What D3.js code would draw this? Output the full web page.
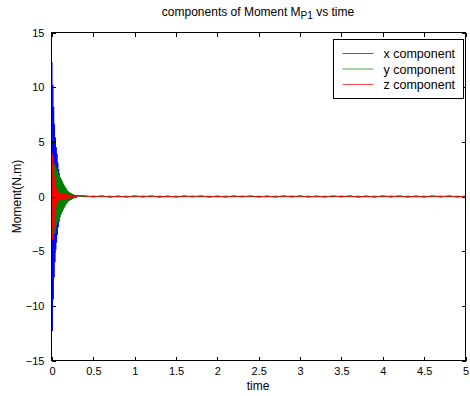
<!DOCTYPE html>
<html>
<head>
<meta charset="utf-8">
<script src="https://cdn.jsdelivr.net/npm/d3@7"></script>
<style>
  html, body { margin: 0; padding: 0; background: #fff; }
  svg { display: block; }
  text { font-family: "Liberation Sans", Arial, Helvetica, sans-serif; fill: #000; }
</style>
</head>
<body>
<svg id="chart" width="470" height="396"></svg>
<script>
// Moment components in N·m. Fast transient sampled every 0.005 s over 0–0.3 s,
// followed by the settled response sampled every 0.1 s over 0.3–5 s.
const fastDt = 0.005;
const slowStart = 0.3;
const slowDt = 0.1;

const xFast = [12.3, -12.3, 10.2, -9.4, 8.2, -7.4, 6.6, -6.0, 5.4, -4.9, 4.5, -4.2, 3.9, -3.5, 3.1, -2.8,
  2.5, -2.3, 2.1, -1.9, 1.75, -1.6, 1.45, -1.35, 1.25, -1.15, 1.05, -0.97, 0.9, -0.83, 0.77, -0.71,
  0.66, -0.61, 0.56, -0.52, 0.48, -0.45, 0.42, -0.39, 0.37, -0.35, 0.33, -0.31, 0.3, -0.28, 0.27, -0.25,
  0.23, -0.21, 0.2, -0.18, 0.17, -0.15, 0.14, -0.12, 0.11, -0.1, 0.09, -0.08, 0.07];
const yFast = [0.5, -2.6, 2.8, -2.95, 2.95, -3.3, 3.0, -3.4, 2.85, -3.1, 2.65, -2.7, 2.5, -2.4, 2.35, -2.25,
  2.15, -2.05, 1.95, -1.85, 1.75, -1.68, 1.6, -1.52, 1.45, -1.38, 1.3, -1.22, 1.15, -1.08, 1.0, -0.93,
  0.87, -0.81, 0.75, -0.68, 0.62, -0.56, 0.5, -0.47, 0.44, -0.41, 0.38, -0.36, 0.34, -0.32, 0.3, -0.27,
  0.24, -0.21, 0.19, -0.16, 0.14, -0.12, 0.1, -0.09, 0.08, -0.07, 0.06, -0.055, 0.05];
const zFast = [4.0, -4.0, 3.8, -3.8, 3.0, -2.9, 1.8, -1.6, 1.0, -0.95, 0.8, -0.7, 0.6, -0.55, 0.5, -0.45,
  0.4, -0.37, 0.34, -0.32, 0.3, -0.28, 0.27, -0.26, 0.25, -0.24, 0.23, -0.22, 0.22, -0.21, 0.21, -0.2,
  0.2, -0.2, 0.19, -0.19, 0.18, -0.18, 0.17, -0.17, 0.16, -0.16, 0.15, -0.15, 0.14, -0.14, 0.13, -0.13,
  0.12, -0.12, 0.11, -0.11, 0.1, -0.1, 0.1, -0.1, 0.09, -0.09, 0.08, -0.08, 0.07];

const xSlow = [0.03, -0.02, 0.03, -0.03, 0.02, -0.03, 0.03, -0.02, 0.03, -0.03, 0.02, -0.03, 0.03, -0.02, 0.03, -0.03,
  0.02, -0.03, 0.03, -0.02, 0.03, -0.03, 0.02, -0.03, 0.03, -0.02, 0.03, -0.03, 0.02, -0.03, 0.03, -0.02,
  0.03, -0.03, 0.02, -0.03, 0.03, -0.02, 0.03, -0.03, 0.02, -0.03, 0.03, -0.02, 0.03, -0.03, 0.02, -0.03];
const ySlow = [-0.03, 0.04, -0.03, 0.03, -0.04, 0.03, -0.03, 0.04, -0.03, 0.03, -0.04, 0.03, -0.03, 0.04, -0.03, 0.03,
  -0.04, 0.03, -0.03, 0.04, -0.03, 0.03, -0.04, 0.03, -0.03, 0.04, -0.03, 0.03, -0.04, 0.03, -0.03, 0.04,
  -0.03, 0.03, -0.04, 0.03, -0.03, 0.04, -0.03, 0.03, -0.04, 0.03, -0.03, 0.04, -0.03, 0.03, -0.04, 0.03];
const zSlow = [0.05, -0.04, 0.05, -0.05, 0.04, -0.05, 0.05, -0.04, 0.05, -0.05, 0.04, -0.05, 0.05, -0.04, 0.05, -0.05,
  0.04, -0.05, 0.05, -0.04, 0.05, -0.05, 0.04, -0.05, 0.05, -0.04, 0.05, -0.05, 0.04, -0.05, 0.05, -0.04,
  0.05, -0.05, 0.04, -0.05, 0.05, -0.04, 0.05, -0.05, 0.04, -0.05, 0.05, -0.04, 0.05, -0.05, 0.04, -0.05];

const seriesNames = ["x component", "y component", "z component"];
const seriesColors = ["#0000ff", "#008000", "#ff0000"];
const xTicks = [0, 0.5, 1, 1.5, 2, 2.5, 3, 3.5, 4, 4.5, 5];
const yTicks = [-15, -10, -5, 0, 5, 10, 15];

const W = 470, H = 396;
const svg = d3.select("#chart");

const x = d3.scaleLinear().domain([0, 5]).range([52, 465.5]);
const y = d3.scaleLinear().domain([-15, 15]).range([360.5, 32.5]);
const boxL = 51.5, boxR = 465.5, boxT = 32.5, boxB = 360.5;

function buildSeries(fast, slow) {
  const pts = fast.map((v, i) => [i * fastDt, v]);
  slow.forEach((v, i) => pts.push([slowStart + (i + 1) * slowDt, v]));
  return pts;
}
const series = [buildSeries(xFast, xSlow), buildSeries(yFast, ySlow), buildSeries(zFast, zSlow)];

svg.append("clipPath").attr("id", "plotclip").append("rect")
  .attr("x", boxL).attr("y", boxT).attr("width", boxR - boxL).attr("height", boxB - boxT);

const line = d3.line().x(d => x(d[0])).y(d => y(d[1]));
const plot = svg.append("g").attr("clip-path", "url(#plotclip)");
series.forEach((s, i) => {
  plot.append("path").datum(s).attr("d", line)
    .attr("fill", "none").attr("stroke", seriesColors[i]).attr("stroke-width", 1);
});

// axes with inward ticks on all four sides
const tickLen = 4;
const axisStyle = g => {
  g.select(".domain").remove();
  g.selectAll("line").attr("stroke", "#000").attr("shape-rendering", "crispEdges");
  g.selectAll("text").style("font-size", "11px").attr("fill", "#000").attr("font-family", null);
};
svg.append("g").attr("transform", `translate(0,${boxB})`)
  .call(d3.axisBottom(x).tickValues(xTicks).tickFormat(d3.format("")).tickSizeInner(-tickLen).tickPadding(7))
  .call(axisStyle);
svg.append("g").attr("transform", `translate(0,${boxT})`)
  .call(d3.axisTop(x).tickValues(xTicks).tickFormat("").tickSizeInner(-tickLen))
  .call(axisStyle);
svg.append("g").attr("transform", `translate(${boxL},0)`)
  .call(d3.axisLeft(y).tickValues(yTicks).tickFormat(d3.format("")).tickSizeInner(-tickLen).tickPadding(7))
  .call(axisStyle);
svg.append("g").attr("transform", `translate(${boxR},0)`)
  .call(d3.axisRight(y).tickValues(yTicks).tickFormat("").tickSizeInner(-tickLen))
  .call(axisStyle);

// frame
svg.append("rect").attr("x", boxL).attr("y", boxT)
  .attr("width", boxR - boxL).attr("height", boxB - boxT)
  .attr("fill", "none").attr("stroke", "#000");

// title with subscript
const title = svg.append("text").attr("x", 258).attr("y", 16)
  .attr("text-anchor", "middle").style("font-size", "12px");
title.append("tspan").text("components of Moment M");
title.append("tspan").attr("baseline-shift", "-33%").style("font-size", "10px").text("P1");
title.append("tspan").text(" vs time");

svg.append("text").attr("x", 258).attr("y", 390)
  .attr("text-anchor", "middle").style("font-size", "12px").text("time");
svg.append("text").attr("transform", `translate(21,${(boxT + boxB) / 2}) rotate(-90)`)
  .attr("text-anchor", "middle").style("font-size", "12px").text("Moment(N.m)");

// legend
const lg = svg.append("g").attr("transform", "translate(333.5,39.5)");
lg.append("rect").attr("width", 130).attr("height", 59)
  .attr("fill", "#fff").attr("stroke", "#000");
seriesNames.forEach((name, i) => {
  const cy = 14 + i * 15.5;
  lg.append("line").attr("x1", 9).attr("x2", 40).attr("y1", cy).attr("y2", cy)
    .attr("stroke", seriesColors[i]).attr("stroke-width", 1).attr("stroke-opacity", 0.7);
  lg.append("text").attr("x", 50).attr("y", cy + 4.5).style("font-size", "12.5px").text(name);
});
</script>
</body>
</html>
